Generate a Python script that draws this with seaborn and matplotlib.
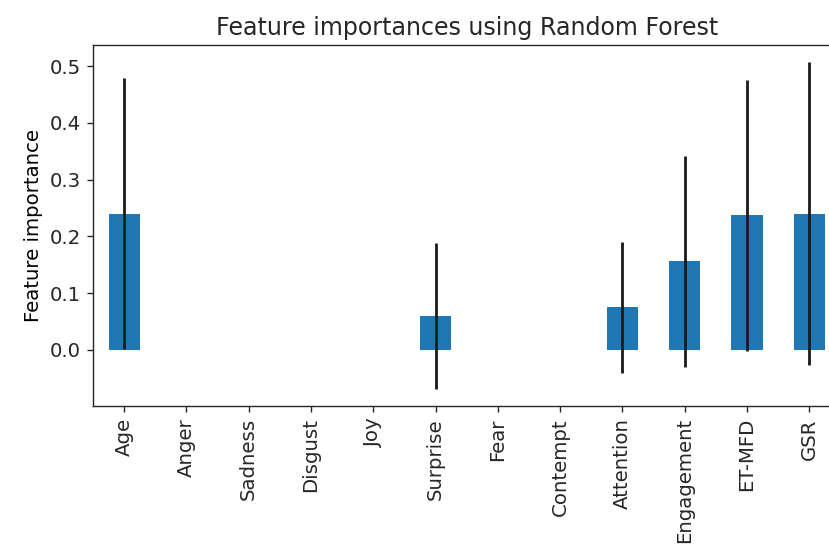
import matplotlib
matplotlib.use("Agg")
import matplotlib.pyplot as plt
import seaborn as sns
import numpy as np

# feature importances
features = ["Age", "Anger", "Sadness", "Disgust", "Joy", "Surprise", "Fear",
            "Contempt", "Attention", "Engagement", "ET-MFD", "GSR"]
importances = [0.240, 0.0, 0.0, 0.0, 0.0, 0.060, 0.0, 0.0, 0.075, 0.156, 0.237, 0.240]
std = [0.239, 0.0, 0.0, 0.0, 0.0, 0.128, 0.0, 0.0, 0.116, 0.186, 0.239, 0.267]

plt.rcParams["font.family"] = ["DejaVu Sans"]
plt.rcParams["font.size"] = 11.4
plt.rcParams["text.color"] = "#262626"
plt.rcParams["xtick.color"] = "#262626"
plt.rcParams["ytick.color"] = "#262626"
plt.rcParams["axes.edgecolor"] = "#262626"

fig = plt.figure(figsize=(829 / 125, 550 / 125), dpi=125)
# axes runs past the right edge, as in the (cropped) original
ax = fig.add_axes([93 / 829, 144 / 550, 747.5 / 829, 361 / 550])

sns.barplot(x=features, y=importances, color="#1f77b4", saturation=1,
            width=0.5, ax=ax)
ax.errorbar(x=np.arange(len(features)), y=importances, yerr=std,
            fmt="none", ecolor="#1a1a1a", elinewidth=1.6)

ax.set_ylim(-0.0986, 0.537)
ax.set_yticks([0.0, 0.1, 0.2, 0.3, 0.4, 0.5])
ax.set_xlim(-0.5, len(features) - 0.5)
ax.tick_params(axis="x", labelrotation=90)
ax.set_title("Feature importances using Random Forest", fontsize=13.7)
ax.set_ylabel("Feature importance")
ax.set_xlabel("")

fig.savefig("out.png", dpi=125)
